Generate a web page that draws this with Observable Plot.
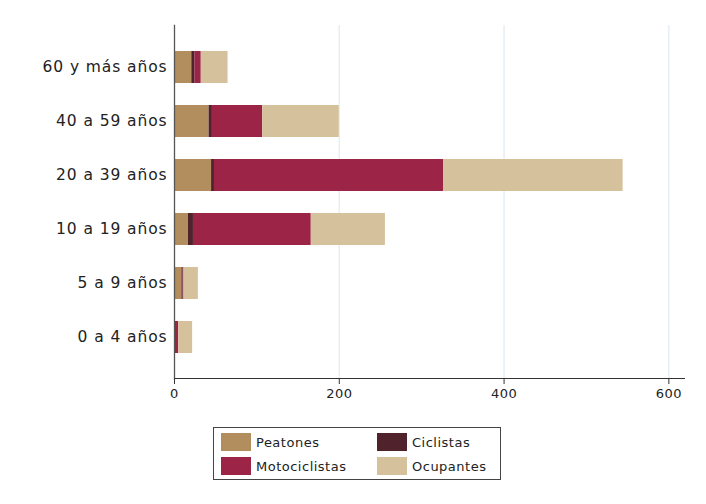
<!DOCTYPE html>
<html>
<head>
<meta charset="utf-8">
<script src="https://cdn.jsdelivr.net/npm/d3@7"></script>
<script src="https://cdn.jsdelivr.net/npm/@observablehq/plot@0.6"></script>
<style>
  body { margin: 0; background: #fff; font-family: "DejaVu Sans", sans-serif; }
  #chart { width: 706px; }
  #chart svg g[aria-label="y-axis tick label"] text { letter-spacing: 0.9px; }
  #chart svg g[aria-label="x-axis tick label"] text { letter-spacing: 0.5px; }
  .legend { position: absolute; left: 213px; top: 427px; width: 288px; height: 53px; border: 1px solid #444; box-sizing: border-box; font-family: "DejaVu Sans", sans-serif; font-size: 13px; letter-spacing: 0.5px; color: #222; }
  .item { position: absolute; display: flex; align-items: center; }
  .sw { width: 30px; height: 18px; margin-right: 5px; }
</style>
</head>
<body>
<div id="chart"></div>
<div class="legend" id="legend"></div>
<script>
const ages = ["60 y más años", "40 a 59 años", "20 a 39 años", "10 a 19 años", "5 a 9 años", "0 a 4 años"];
const tipos = ["Peatones", "Ciclistas", "Motociclistas", "Ocupantes"];
const colors = ["#b28e5e", "#4f222c", "#9c2447", "#d5c19b"];
const peatones = [21, 42, 45, 17, 9, 0];
const ciclistas = [4, 4, 3.5, 6, 1.5, 0];
const motociclistas = [7.5, 61, 278, 143, 1, 5];
const ocupantes = [32.5, 93, 218, 90, 17.5, 17];
const xTicks = [0, 200, 400, 600];

const series = [peatones, ciclistas, motociclistas, ocupantes];
const data = [];
tipos.forEach((t, j) => ages.forEach((a, i) => data.push({age: a, tipo: t, value: series[j][i]})));

const plot = Plot.plot({
  width: 706,
  height: 415,
  marginLeft: 174,
  marginRight: 22,
  marginTop: 25,
  marginBottom: 37,
  style: {fontFamily: "DejaVu Sans, sans-serif", color: "#222", background: "#fff"},
  x: {domain: [0, 619]},
  y: {domain: ages, paddingInner: 0.41, paddingOuter: 0.45},
  color: {domain: tipos, range: colors},
  marks: [
    Plot.gridX([200, 400, 600], {stroke: "#e8eef4", strokeOpacity: 1, strokeWidth: 1.5}),
    Plot.barX(data, {y: "age", x: "value", fill: "tipo"}),
    Plot.frame({anchor: "left", stroke: "#555", strokeWidth: 1.3}),
    Plot.frame({anchor: "bottom", stroke: "#333", strokeWidth: 1}),
    Plot.axisX({ticks: xTicks, tickSize: 6, tickPadding: 4, fontSize: 13, label: null, stroke: "#333"}),
    Plot.axisY({tickSize: 0, tickPadding: 7, fontSize: 15.5, label: null})
  ]
});
document.getElementById("chart").appendChild(plot);

const legend = document.getElementById("legend");
const pos = [[7, 5], [163, 5], [7, 29], [163, 29]];
tipos.forEach((t, k) => {
  const d = document.createElement("div");
  d.className = "item";
  d.style.left = pos[k][0] + "px";
  d.style.top = pos[k][1] + "px";
  const sw = document.createElement("div");
  sw.className = "sw";
  sw.style.background = colors[k];
  const lab = document.createElement("span");
  lab.textContent = t;
  d.appendChild(sw);
  d.appendChild(lab);
  legend.appendChild(d);
});
</script>
</body>
</html>
